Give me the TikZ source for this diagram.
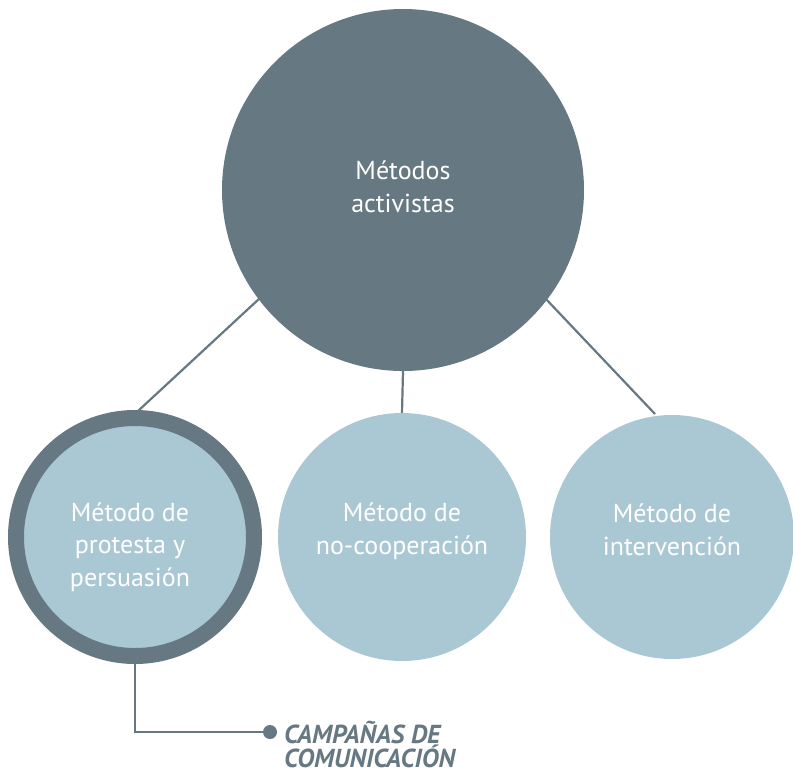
\documentclass[tikz,border=0pt]{standalone}
\usepackage{fontspec}
\setmainfont{PT Sans}
\definecolor{slate}{HTML}{667882}
\definecolor{pale}{HTML}{AAC8D4}
\begin{document}
\begin{tikzpicture}[x=1pt,y=-1pt,
  conn/.style={draw=slate,line width=2.2pt},
  label/.style={text=white,align=center,font=\fontsize{26}{32.5}\selectfont},
  bubble/.style={circle,fill=pale,inner sep=0pt}]
\useasboundingbox (0,0) rectangle (793,772);
\node[circle,fill=slate,minimum size=362pt,inner sep=0pt] (top) at (403,190) {};
\node[label] (toptext) at (403,187) {Métodos\\activistas};
\node[bubble,minimum size=238pt,draw=slate,line width=16pt] (left) at (135,537) {};
\node[bubble,minimum size=248pt] (mid) at (402,537) {};
\node[bubble,minimum size=244pt] (right) at (672,537) {};
\node[label] (lefttext) at (130,547) {Método de\\protesta y\\persuasión};
\node[label] (midtext) at (402,531) {Método de\\no-cooperación};
\node[label] (righttext) at (672,530) {Método de\\intervención};
\coordinate (t1) at (260,298);
\coordinate (l1) at (138,411);
\coordinate (t3) at (545,298);
\coordinate (r1) at (655,414);
\draw[conn] (t1) -- (l1);
\draw[conn] (top.south) -- (mid.north);
\draw[conn] (t3) -- (r1);
\coordinate (lb) at (135,664);
\coordinate (corner) at (135,732);
\node[circle,fill=slate,minimum size=14pt,inner sep=0pt] (dot) at (270,732) {};
\draw[conn] (lb) -- (corner) -- (dot);
\node[anchor=north west,align=left,text=slate,inner sep=0pt,
  font=\fontsize{26}{24}\selectfont\bfseries\itshape] (camp) at (284,721) {CAMPAÑAS DE\\COMUNICACIÓN};
\end{tikzpicture}
\end{document}
